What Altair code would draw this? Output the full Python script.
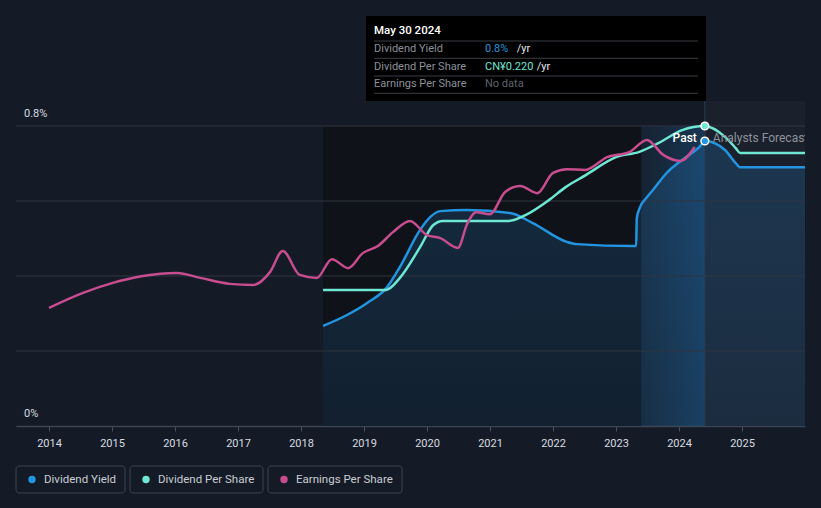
import altair as alt
import pandas as pd

# ---------------- data ----------------
# Dividend Yield, % (decimal years)
yield_year = [2018.35, 2018.73, 2019.05, 2019.37, 2019.57, 2019.89, 2020.05, 2020.21, 2020.63,
              2021.32, 2021.68, 2022.22, 2022.38, 2023.27, 2023.32, 2023.33, 2023.38, 2023.49,
              2023.59, 2023.80, 2024.12, 2024.33, 2024.41, 2024.73, 2024.9, 2024.97, 2026.0]
yield_val = [0.267, 0.296, 0.328, 0.371, 0.424, 0.523, 0.557, 0.573, 0.576,
             0.568, 0.541, 0.491, 0.485, 0.480, 0.480, 0.554, 0.583, 0.610,
             0.630, 0.674, 0.718, 0.745, 0.760, 0.736, 0.701, 0.690, 0.690]

# Dividend Per Share, plotted on the same relative height as the yield axis
dps_year = [2018.35, 2019.35, 2019.57, 2019.89, 2020.1, 2020.25, 2021.3, 2021.57, 2021.94,
            2022.2, 2022.52, 2023.0, 2023.37, 2023.68, 2024.05, 2024.41, 2024.73, 2024.9,
            2024.97, 2026.0]
dps_val = [0.363, 0.363, 0.395, 0.477, 0.536, 0.547, 0.547, 0.563, 0.603,
           0.637, 0.669, 0.717, 0.731, 0.755, 0.789, 0.800, 0.771, 0.741,
           0.728, 0.728]

# Earnings Per Share, plotted on the same relative height
eps_year = [2014.0, 2014.54, 2015.0, 2015.49, 2016.03, 2016.4, 2016.87, 2017.24, 2017.51,
            2017.71, 2017.98, 2018.25, 2018.49, 2018.75, 2018.98, 2019.22, 2019.46, 2019.73,
            2020.0, 2020.21, 2020.49, 2020.64, 2020.78, 2021.0, 2021.24, 2021.48, 2021.75,
            2022.0, 2022.22, 2022.51, 2022.86, 2023.22, 2023.49, 2023.75, 2024.02, 2024.25]
eps_val = [0.315, 0.355, 0.381, 0.400, 0.408, 0.395, 0.379, 0.376, 0.411,
           0.467, 0.403, 0.395, 0.445, 0.421, 0.461, 0.480, 0.517, 0.547,
           0.509, 0.501, 0.475, 0.540, 0.570, 0.565, 0.624, 0.640, 0.621,
           0.675, 0.685, 0.683, 0.717, 0.731, 0.763, 0.723, 0.707, 0.744]

x_ticks = [2014, 2015, 2016, 2017, 2018, 2019, 2020, 2021, 2022, 2023, 2024, 2025]
grid_vals = [0.2, 0.4, 0.6, 0.8]
y_labels = ["0%", "0.8%"]
y_label_vals = [0.0, 0.8]

past_start, band_start, now_year, x_end = 2018.35, 2023.4, 2024.41, 2026.0
top_val = 0.8667

tip_title = "May 30 2024"
tip_labels = ["Dividend Yield", "Dividend Per Share", "Earnings Per Share"]
tip_values = ["0.8%", "CN¥0.220", "No data"]
tip_value_colors = ["#2394df", "#6ee7d3", "#5f646c"]
tip_units = ["/yr", "/yr", ""]

legend_names = ["Dividend Yield", "Dividend Per Share", "Earnings Per Share"]
legend_colors = ["#2394df", "#6ee7d3", "#c84d8e"]

# ---------------- layout ----------------
W, H = 789, 410
YMAX = 410 / 375
FONT = "Roboto"
xs = alt.Scale(domain=[2013.476, 2026.0], nice=False, zero=False)
ys = alt.Scale(domain=[0, YMAX], nice=False, zero=True)
x_axis = alt.Axis(values=x_ticks, format="d", title=None, grid=False, labelColor="#d7dbe0",
                  labelFont=FONT, labelFontSize=11, labelPadding=6, tickSize=5,
                  tickColor="#4a5160", domainColor="#3d4452", domainWidth=1.5)


def X(f):
    return alt.X(f, type="quantitative", scale=xs, axis=x_axis)


def Y(f):
    return alt.Y(f, type="quantitative", scale=ys, axis=None)


ydf = pd.DataFrame({"year": yield_year, "v": yield_val})
ddf = pd.DataFrame({"year": dps_year, "v": dps_val})
edf = pd.DataFrame({"year": eps_year, "v": eps_val})

forecast_rect = alt.Chart(pd.DataFrame({"a": [now_year], "b": [x_end], "t": [top_val]})).mark_rect(
    color="#1a212d").encode(x=X("a"), x2="b:Q", y=Y("t"), y2=alt.datum(0))
past_rect = alt.Chart(pd.DataFrame({"a": [past_start], "b": [band_start], "t": [0.8]})).mark_rect(
    color="#0f1219").encode(x=X("a"), x2="b:Q", y=Y("t"), y2=alt.datum(0))

area = alt.Chart(ydf).mark_area(
    interpolate="monotone",
    color=alt.Gradient(gradient="linear", x1=0, x2=0, y1=0, y2=1,
                       stops=[alt.GradientStop(color="rgba(35,110,170,0.28)", offset=0),
                              alt.GradientStop(color="rgba(35,110,170,0.15)", offset=1)])
).encode(x=X("year"), y=Y("v"), y2=alt.datum(0))

band = alt.Chart(pd.DataFrame({"a": [band_start], "b": [now_year], "t": [0.8]})).mark_rect(
    color=alt.Gradient(gradient="linear", x1=0, x2=1, y1=0, y2=0,
                       stops=[alt.GradientStop(color="rgba(33,150,243,0.06)", offset=0),
                              alt.GradientStop(color="rgba(33,150,243,0.22)", offset=1)])
).encode(x=X("a"), x2="b:Q", y=Y("t"), y2=alt.datum(0))

grid = alt.Chart(pd.DataFrame({"g": grid_vals})).mark_rule(color="#2f3541", strokeWidth=1).encode(
    y=Y("g"), x=alt.value(0), x2=alt.value(W))

ylab = alt.Chart(pd.DataFrame({"t": y_labels, "v": y_label_vals})).mark_text(
    align="left", baseline="middle", dy=-12, font=FONT, fontSize=11, color="#d7dbe0"
).encode(x=alt.value(8), y=Y("v"), text="t:N")

line_eps = alt.Chart(edf).mark_line(interpolate="monotone", color="#c84d8e", strokeWidth=2.5).encode(
    x=X("year"), y=Y("v"))
line_dps = alt.Chart(ddf).mark_line(interpolate="monotone", color="#6ee7d3", strokeWidth=2.5).encode(
    x=X("year"), y=Y("v"))
line_yield = alt.Chart(ydf).mark_line(interpolate="monotone", color="#2394df", strokeWidth=2.5).encode(
    x=X("year"), y=Y("v"))

now_rule = alt.Chart(pd.DataFrame({"x": [now_year], "t": [top_val]})).mark_rule(
    color="#2b3d50", strokeWidth=1).encode(x=X("x"), y=Y("t"), y2=alt.datum(0))

dots = alt.Chart(pd.DataFrame({"x": [now_year, now_year], "v": [0.8, 0.760],
                               "c": ["#6ee7d3", "#2394df"]})).mark_circle(
    size=60, opacity=1, stroke="white", strokeWidth=1.5).encode(
    x=X("x"), y=Y("v"), color=alt.Color("c:N", scale=None))

past_lbl = alt.Chart(pd.DataFrame({"x": [now_year], "v": [0.768], "t": ["Past"]})).mark_text(
    align="right", baseline="middle", dx=-8, font=FONT, fontSize=12, fontWeight=500, color="#ffffff"
).encode(x=X("x"), y=Y("v"), text="t:N")
fc_lbl = alt.Chart(pd.DataFrame({"x": [now_year], "v": [0.768], "t": ["Analysts Forecasts"]})).mark_text(
    align="left", baseline="middle", dx=8, font=FONT, fontSize=12, color="#8d929a", clip=True
).encode(x=X("x"), y=Y("v"), text="t:N")

# ---------------- tooltip box (pixel-positioned decoration) ----------------
one = pd.DataFrame({"k": [0]})


def ptext(txt, px, py, color, size=11, weight="normal"):
    return alt.Chart(one).mark_text(align="left", baseline="middle", font=FONT, fontSize=size,
                                    fontWeight=weight, color=color, text=txt).encode(
        x=alt.value(px), y=alt.value(py))


tip_layers = [alt.Chart(one).mark_rect(color="#000000").encode(
    x=alt.value(350), x2=alt.value(690), y=alt.value(0), y2=alt.value(85))]
for sy in [25, 42.3, 60, 77.3]:
    tip_layers.append(alt.Chart(one).mark_rule(color="#3a3d43", strokeWidth=1).encode(
        x=alt.value(358), x2=alt.value(682), y=alt.value(sy)))
tip_layers.append(ptext(tip_title, 358, 15, "#ffffff", 11.5, 500))
row_y = [33, 50.5, 68]
unit_x = [500.7, 520.7, 0]
for lab, val, vc, unit, ry, ux in zip(tip_labels, tip_values, tip_value_colors, tip_units, row_y, unit_x):
    tip_layers.append(ptext(lab, 358, ry, "#8b9099"))
    tip_layers.append(ptext(val, 469, ry, vc))
    if unit:
        tip_layers.append(ptext(unit, ux, ry, "#e6e8eb"))

# ---------------- legend (pixel-positioned decoration) ----------------
leg_layers = []
box_x = [(0, 109), (114, 247), (252, 386)]
for name, col, (bx0, bx1) in zip(legend_names, legend_colors, box_x):
    leg_layers.append(alt.Chart(one).mark_rect(fill="#151b26", stroke="#3d4350", strokeWidth=1,
                                               cornerRadius=3).encode(
        x=alt.value(bx0), x2=alt.value(bx1), y=alt.value(450), y2=alt.value(477)))
    leg_layers.append(alt.Chart(one).mark_circle(size=55, opacity=1, color=col).encode(
        x=alt.value(bx0 + 16), y=alt.value(463.5)))
    leg_layers.append(ptext(name, bx0 + 28, 463.5, "#c9cdd3", 11.5))

chart = alt.layer(
    forecast_rect, past_rect, area, band, grid, ylab,
    line_yield, line_dps, line_eps, now_rule, dots, past_lbl, fc_lbl,
    *tip_layers, *leg_layers,
).properties(
    width=W, height=H, background="#151b26",
    padding={"left": 16, "top": 16, "right": 16, "bottom": 82},
    autosize=alt.AutoSizeParams(type="none"),
).configure_view(stroke=None)

chart.save("out.html", embed_options={"renderer": "svg", "actions": False})
